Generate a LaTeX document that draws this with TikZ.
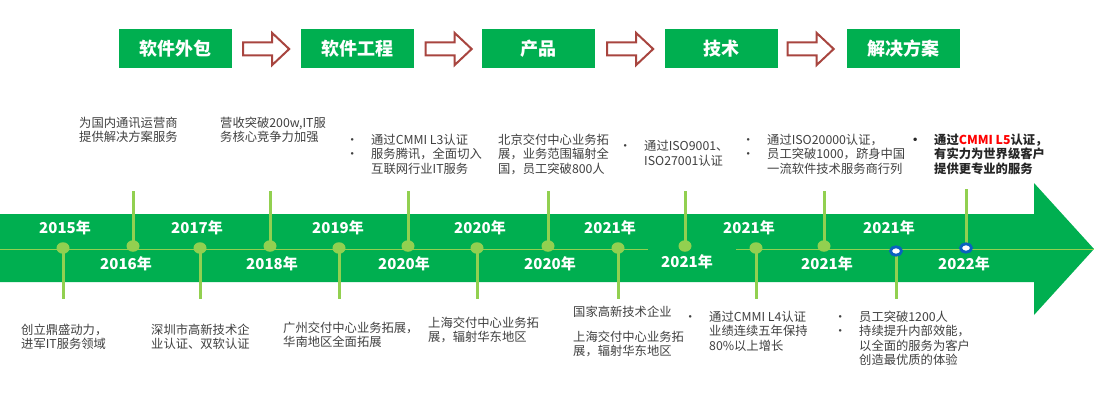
\documentclass[tikz,border=0pt]{standalone}
\usepackage{fontspec}
\setmainfont{Noto Sans CJK SC}
\usetikzlibrary{calc,shapes.geometric}
\definecolor{mygreen}{HTML}{00AF50}
\definecolor{lgreen}{HTML}{92D050}
\definecolor{ringblue}{HTML}{0A62C0}
\definecolor{arrred}{HTML}{A8453F}
\definecolor{txtgray}{HTML}{404040}
\definecolor{txtdark}{HTML}{262626}
\definecolor{hired}{HTML}{FF0000}
\pgfdeclarelayer{back}
\pgfdeclarelayer{mid}
\pgfsetlayers{back,mid,main}
\tikzset{
  topbox/.style={fill=mygreen, text=white, font=\fontsize{18}{20}\selectfont\bfseries, minimum width=113pt, minimum height=39pt, inner sep=0},
  harrow/.style={draw=arrred, line width=2pt, fill=white, line join=miter},
  yr/.style={text=white, font=\fontsize{15}{17}\selectfont\bfseries, inner sep=0},
  dot/.style={ellipse, fill=lgreen, minimum width=13pt, minimum height=11.5pt, inner sep=0},
  ring/.style={ellipse, draw=ringblue, line width=2.8pt, fill=white, minimum width=11pt, minimum height=8.5pt, inner sep=0},
  stem/.style={draw=lgreen, line width=3pt},
  midline/.style={draw=lgreen, line width=1pt},
  txt/.style={text=txtgray, font=\fontsize{12.3}{14.5}\selectfont, inner sep=0, align=left, anchor=north west},
  txtb/.style={text=txtdark, font=\fontsize{12.3}{14.5}\selectfont\bfseries, inner sep=0, align=left, anchor=north west}
}
\newcommand\bul{\makebox[0pt]{•}\hspace{19pt}}
\newcommand\nob{\hspace{19pt}}
\newcommand\hollowarrow[1]{\draw[harrow] (#1) ++(0,-6.5) -- ++(29,0) -- ++(0,-9.5) -- ++(17,16) -- ++(-17,16) -- ++(0,-9.5) -- ++(-29,0) -- cycle;}
\begin{document}
\begin{tikzpicture}[x=1pt,y=-1pt]
\useasboundingbox (0,0) rectangle (1094,412);
\begin{pgfonlayer}{back}
\fill[white] (0,0) rectangle (1094,412);
\fill[mygreen] (0,214) -- (1034,214) -- (1034,183) -- (1094,249) -- (1034,315) -- (1034,282) -- (0,282) -- cycle;
\draw[midline] (0,249) -- (648,249);
\draw[midline] (736,249) -- (1094,249);
\end{pgfonlayer}

% top boxes
\node[topbox] (b1) at (175.5,48.5) {软件外包};
\node[topbox] (b2) at (357,48.5) {软件工程};
\node[topbox] (b3) at (538.5,48.5) {产品};
\node[topbox] (b4) at (721,48.5) {技术};
\node[topbox] (b5) at (903,48.5) {解决方案};
\coordinate (a1) at ($(b1.east)+(11,0.5)$);
\coordinate (a2) at ($(b2.east)+(12,0.5)$);
\coordinate (a3) at ($(b3.east)+(12,0.5)$);
\coordinate (a4) at ($(b4.east)+(10,0.5)$);
\hollowarrow{a1}
\hollowarrow{a2}
\hollowarrow{a3}
\hollowarrow{a4}

% dots
\node[dot] (d1) at (63,248) {};
\node[dot] (d2) at (133,246) {};
\node[dot] (d3) at (200,248) {};
\node[dot] (d4) at (270,246) {};
\node[dot] (d5) at (339,248) {};
\node[dot] (d6) at (408,246) {};
\node[dot] (d7) at (477,248) {};
\node[dot] (d8) at (548,246) {};
\node[dot] (d9) at (618,248) {};
\node[dot] (d10) at (685,246) {};
\node[dot] (d11) at (756,248) {};
\node[dot] (d12) at (824,246) {};
\node[ring] (d13) at (896,251) {};
\node[ring] (d14) at (966,248) {};

% stem ends
\coordinate (e1) at (63,299);
\coordinate (e2) at (133,191);
\coordinate (e3) at (200,299);
\coordinate (e4) at (270,191);
\coordinate (e5) at (339,299);
\coordinate (e6) at (408,191);
\coordinate (e7) at (477,299);
\coordinate (e8) at (548,191);
\coordinate (e9) at (618,299);
\coordinate (e10) at (685,191);
\coordinate (e11) at (756,299);
\coordinate (e12) at (824,191);
\coordinate (e13) at (896,299);
\coordinate (e14) at (966,189);
\begin{pgfonlayer}{mid}
\foreach \i in {1,...,14}{\draw[stem] (d\i.center) -- (e\i);}
\end{pgfonlayer}

% year labels
\node[yr] (y1) at (65,228) {2015年};
\node[yr] (y2) at (126,264) {2016年};
\node[yr] (y3) at (197,228) {2017年};
\node[yr] (y4) at (272,264) {2018年};
\node[yr] (y5) at (338,228) {2019年};
\node[yr] (y6) at (404,264) {2020年};
\node[yr] (y7) at (480,228) {2020年};
\node[yr] (y8) at (550,264) {2020年};
\node[yr] (y9) at (610,228) {2021年};
\node[yr] (y10) at (687,262) {2021年};
\node[yr] (y11) at (749,228) {2021年};
\node[yr] (y12) at (827,264) {2021年};
\node[yr] (y13) at (889,228) {2021年};
\node[yr] (y14) at (964,264) {2022年};

% upper texts
\node[txt] (t1) at (79,116.75) {为国内通讯运营商\\提供解决方案服务};
\node[txt] (t2) at (220,116.75) {营收突破200w,IT服\\务核心竞争力加强};
\node[txt] (t3) at (352,133.75) {\bul 通过CMMI L3认证\\\bul 服务腾讯，全面切入\\\nob 互联网行业IT服务};
\node[txt] (t4) at (498,133.75) {北京交付中心业务拓\\展，业务范围辐射全\\国，员工突破800人};
\node[txt] (t5) at (625,140.5) {\bul 通过ISO9001、\\\nob ISO27001认证};
\node[txt] (t6) at (748,133.75) {\bul 通过ISO20000认证，\\\bul 员工突破1000，跻身中国\\\nob 一流软件技术服务商行列};
\node[txtb] (t7) at (915,133.75) {\bul 通过{\color{hired}CMMI L5}认证，\\\nob 有实力为世界级客户\\\nob 提供更专业的服务};

% lower texts
\node[txt] (u1) at (21,323.75) {创立鼎盛动力，\\进军IT服务领域};
\node[txt] (u2) at (151,323.75) {深圳市高新技术企\\业认证、双软认证};
\node[txt] (u3) at (283,321.5) {广州交付中心业务拓展，\\华南地区全面拓展};
\node[txt] (u4) at (428,316.75) {上海交付中心业务拓\\展，辐射华东地区};
\node[txt] (u5) at (573,305.75) {国家高新技术企业\\[10.5pt]上海交付中心业务拓\\展，辐射华东地区};
\node[txt] (u6) at (690,310.75) {\bul 通过CMMI L4认证\\\nob 业绩连续五年保持\\\nob 80\%以上增长};
\node[txt] (u7) at (840,310.75) {\bul 员工突破1200人\\\bul 持续提升内部效能，\\\nob 以全面的服务为客户\\\nob 创造最优质的体验};
\end{tikzpicture}
\end{document}
